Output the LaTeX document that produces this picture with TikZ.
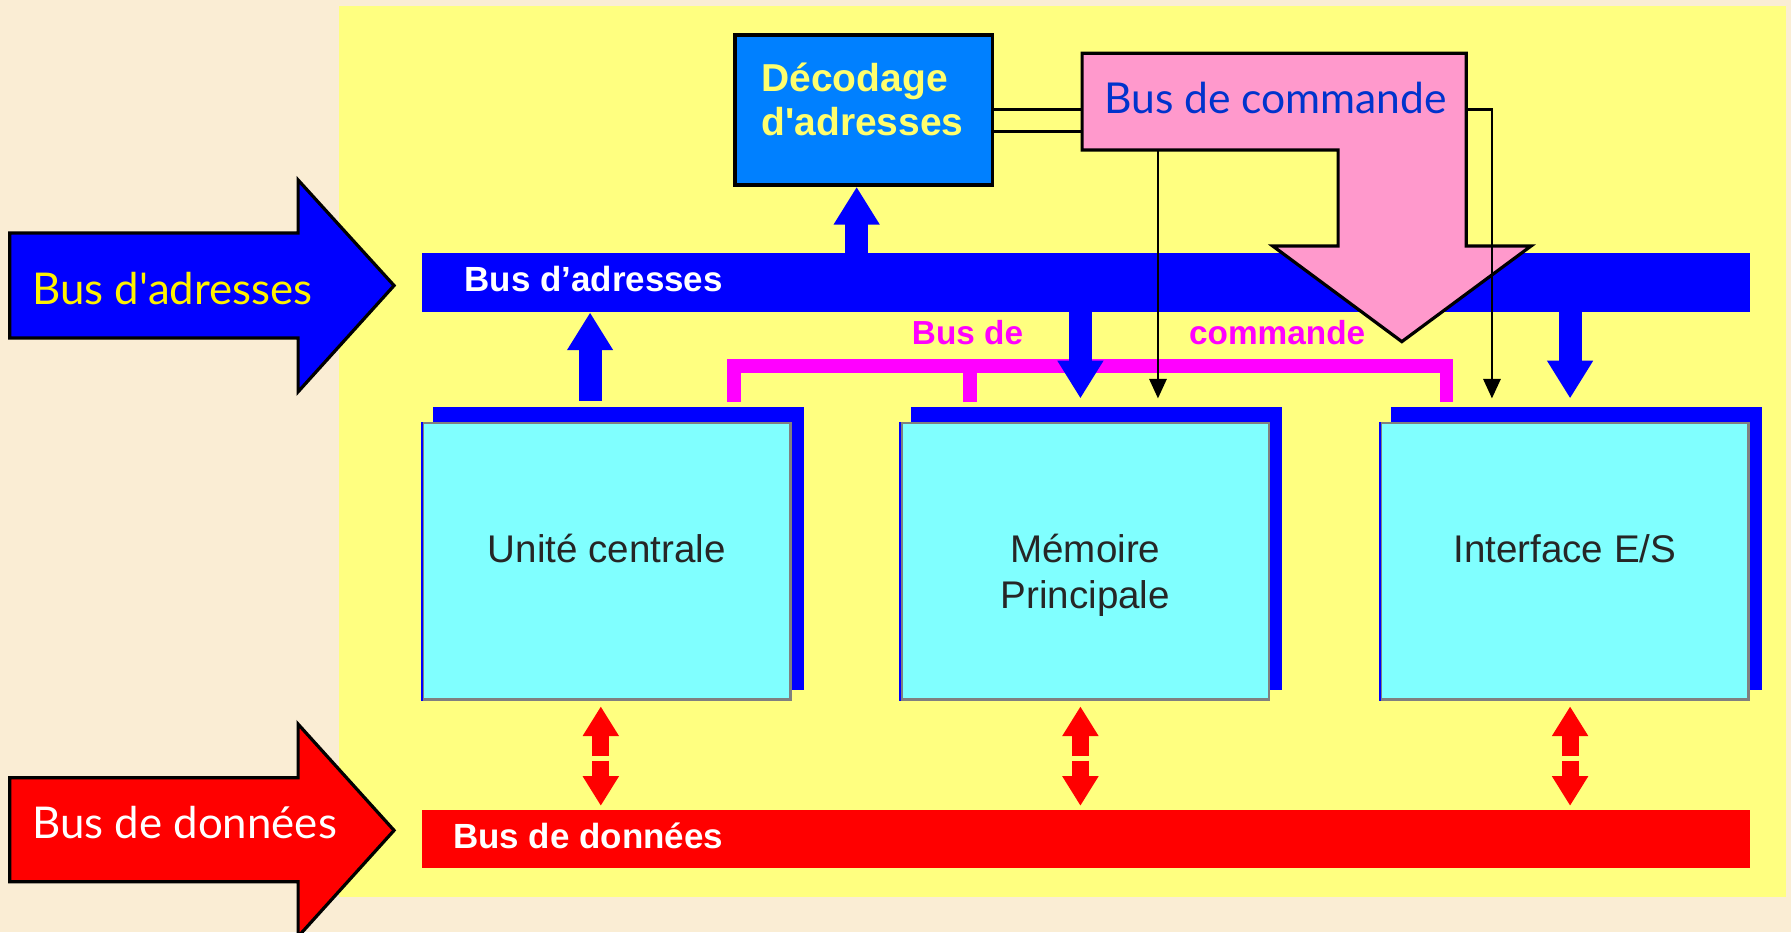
\documentclass[tikz,border=0pt]{standalone}
\usepackage{fontspec}
\setmainfont{Liberation Sans}
\newfontfamily\comic{Lato}
\usetikzlibrary{arrows.meta}

\definecolor{parchment}{RGB}{250,237,212}
\definecolor{panel}{RGB}{255,255,128}
\definecolor{busblue}{RGB}{0,0,255}
\definecolor{busred}{RGB}{255,0,0}
\definecolor{boxcyan}{RGB}{128,255,255}
\definecolor{decblue}{RGB}{0,128,255}
\definecolor{decyellow}{RGB}{255,255,110}
\definecolor{cmdpink}{RGB}{255,153,204}
\definecolor{cmdblue}{RGB}{0,51,204}
\definecolor{cmdmagenta}{RGB}{255,0,255}

\tikzset{
  bigarrow/.style={draw=black, line width=0.8pt, line join=miter},
  busbar/.style={fill=#1, draw=none, minimum width=11.625cm, minimum height=0.51cm, inner sep=0pt},
  buslabel/.style={anchor=base west, inner sep=0pt, text=white, font=\fontsize{8.7}{10}\selectfont\bfseries},
  unitbox/.style={fill=boxcyan, draw=gray, line width=0.6pt, minimum width=3.215cm, minimum height=2.417cm, inner sep=0pt},
  unitback/.style={fill=busblue, minimum width=3.247cm, minimum height=2.478cm, inner sep=0pt},
  unitlabel/.style={anchor=north, align=center, inner sep=0pt, text=black!85, font=\fontsize{9.6}{11.5}\selectfont},
  adrarrow/.style={color=busblue, line width=0.2cm, -{Triangle[width=0.38cm,length=0.33cm]}},
  datarrow/.style={color=busred, line width=0.15cm, -{Triangle[width=0.3cm,length=0.26cm]}},
  ctlline/.style={black, line width=0.6pt},
  ctlarrow/.style={ctlline, -{Triangle[width=0.15cm,length=0.17cm]}},
  magbus/.style={cmdmagenta, line width=0.12cm},
  maglabel/.style={anchor=base west, inner sep=0pt, text=cmdmagenta, font=\fontsize{8.3}{10}\selectfont\bfseries},
  comictext/.style={anchor=base west, inner sep=0pt, font=\comic\fontsize{10.9}{13}\selectfont},
}

\begin{document}
\begin{tikzpicture}[x=0.01cm, y=-0.01cm]
   \useasboundingbox (0,0) rectangle (1568,816);
   \clip (0,0) rectangle (1568,816);
   \fill[parchment] (0,0) rectangle (1568,816);
   \fill[panel] (296.5,5) rectangle (1564,785.3);

   % big arrows on the left
   \draw[bigarrow, fill=busblue] (8.5,204) -- (261,204) -- (261,157.6) -- (345,250)
      -- (261,343) -- (261,296) -- (8.5,296) -- cycle;
   \node[comictext, text=yellow] (adrtitle) at (27.6,267) {Bus d\textquotesingle adresses};
   \draw[bigarrow, fill=busred] (8.5,681) -- (261,681) -- (261,634) -- (345,727)
      -- (261,820) -- (261,772) -- (8.5,772) -- cycle;
   \node[comictext, text=white] (dattitle) at (27.6,734.3) {Bus de données};

   % the two buses
   \node[busbar=busblue] (adrbus) at (950.75,247.35) {};
   \node[buslabel] (adrlbl) at (406,255.4) {Bus d’adresses};
   \node[busbar=busred] (databus) at (950.75,734.75) {};
   \node[buslabel] (datlbl) at (396,743) {Bus de données};

   % address decoder
   \node[fill=decblue, draw=black, line width=0.9pt, minimum width=2.253cm,
      minimum height=1.314cm, inner sep=0pt] (decod) at (756.35,96.3) {};
   \node[anchor=north west, align=left, inner sep=0pt, text=decyellow,
      font=\fontsize{9.7}{11}\selectfont\bfseries] (decodlbl) at (666,54.5)
      {Décodage\\d\textquotesingle adresses};

   % units
   \foreach \nm/\x/\txt in {cpu/531.2/{Unité centrale}, mem/950.2/{Mémoire\\Principale}, io/1370/{Interface E/S}} {
      \node[unitback] (\nm-back) at (\x+10,480.5) {};
      \node[unitbox] (\nm) at (\x,491.45) {};
      \draw[busblue, line width=0.5pt] (\nm.north west) -- (\nm.south west);
      \node[unitlabel] (\nm-lbl) at (\x,467) {\txt};
   }

   % control bus
   \draw[magbus] (642.5,351.6) -- (642.5,320.6) -- (1266.3,320.6) -- (1266.3,351.7);
   \draw[magbus] (849.3,320.6) -- (849.3,351.7);
   \node[maglabel] (maglbl1) at (797.7,302) {Bus de};
   \node[maglabel] (maglbl2) at (1040.4,302) {commande};

   % address arrows
   \draw[adrarrow, shorten <=0.05cm] (516.6,0 |- cpu-back.north) -- (516.6,0 |- adrbus.south);
   \draw[adrarrow] (750,0 |- adrbus.north) -- (750,0 |- decod.south);
   \foreach \x/\nm in {945.9/mem, 1374.6/io}
      \draw[adrarrow, shorten >=0.07cm] (\x,0 |- adrbus.south) -- (\x,0 |- \nm-back.north);

   % command arrow
   \draw[bigarrow, fill=cmdpink] (947.4,46.7) coordinate (cmdTL) -- (1283.6,46.7) coordinate (cmdTR)
      -- (1283.6,215.4) -- (1340.4,215.4) -- (1227.3,299.1) -- (1114.3,215.4)
      -- (1171.5,215.4) -- (1171.5,131.3) -- (947.4,131.3) coordinate (cmdBL) -- cycle;
   \node[comictext, text=cmdblue, font=\comic\fontsize{10.6}{13}\selectfont] (cmdlbl) at (966,99.2) {Bus de commande};

   \draw[ctlline] (decod.east |- 0,95.7) -- (cmdTL |- 0,95.7);
   \draw[ctlline] (decod.east |- 0,115.3) -- (cmdTL |- 0,115.3);
   \draw[ctlarrow, shorten >=0.07cm] (1013.8,0 |- cmdBL) -- (1013.8,0 |- mem-back.north);
   \draw[ctlarrow, shorten >=0.07cm] (cmdTR |- 0,95.7) -- (1306.2,95.7) -- (1306.2,0 |- io-back.north);

   % data arrows
   \foreach \x/\nm in {526/cpu, 945.9/mem, 1374.6/io} {
      \coordinate (gap-\nm) at (\x,664);
      \draw[datarrow, shorten <=0.02cm, shorten >=0.05cm] (gap-\nm) -- (\x,0 |- \nm.south);
      \draw[datarrow, shorten <=0.02cm, shorten >=0.03cm] (gap-\nm) -- (\x,0 |- databus.north);
   }

\end{tikzpicture}
\end{document}
